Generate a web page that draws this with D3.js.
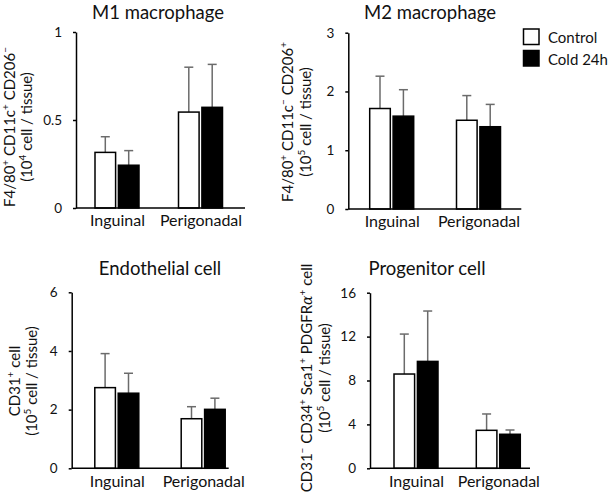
<!DOCTYPE html>
<html><head><meta charset="utf-8">
<script src="https://cdn.jsdelivr.net/npm/d3@7"></script>
<style>body{margin:0;background:#fff}svg{display:block}text{font-family:Lato,"Open Sans",sans-serif;fill:#111}</style>
</head><body><svg id="c" width="610" height="493"></svg>
<script>
const groups = ["Inguinal", "Perigonadal"];
const series = ["Control", "Cold 24h"];

const m1Control = [0.316, 0.545], m1ControlErr = [0.089, 0.255];
const m1Cold = [0.243, 0.572], m1ColdErr = [0.083, 0.244];
const m1Ticks = [0, 0.5, 1];

const m2Control = [1.71, 1.51], m2ControlErr = [0.55, 0.42];
const m2Cold = [1.58, 1.40], m2ColdErr = [0.45, 0.38];
const m2Ticks = [0, 1, 2, 3];

const endoControl = [2.75, 1.69], endoControlErr = [1.16, 0.41];
const endoCold = [2.56, 2.01], endoColdErr = [0.68, 0.38];
const endoTicks = [0, 2, 4, 6];

const progControl = [8.59, 3.46], progControlErr = [3.64, 1.49];
const progCold = [9.74, 3.10], progColdErr = [4.59, 0.39];
const progTicks = [0, 4, 8, 12, 16];

const panels = [
  {title: "M1 macrophage", ticks: m1Ticks, vals: [m1Control, m1Cold], errs: [m1ControlErr, m1ColdErr],
   ax: 76, top: 32, bot: 208, len: 169, c1: 41, c2: 124.5, tx: 158, ty: 19,
   lab: [["F4/80", ["+"], " CD11c", ["+"], " CD206", ["\u2212"]], ["(10", ["4"], " cell / tissue)"]], lx: [9, 26], ly: 127},
  {title: "M2 macrophage", ticks: m2Ticks, vals: [m2Control, m2Cold], errs: [m2ControlErr, m2ColdErr],
   ax: 348.3, top: 32.7, bot: 209, len: 173, c1: 43.4, c2: 130.2, tx: 430, ty: 19,
   lab: [["F4/80", ["+"], " CD11c", ["\u2212"], " CD206", ["+"]], ["(10", ["5"], " cell / tissue)"]], lx: [287, 305], ly: 122},
  {title: "Endothelial cell", ticks: endoTicks, vals: [endoControl, endoCold], errs: [endoControlErr, endoColdErr],
   ax: 71.7, top: 292.3, bot: 468.3, len: 157, c1: 45.1, c2: 131.5, tx: 160, ty: 275,
   lab: [["CD31", ["+"], " cell"], ["(10", ["5"], " cell / tissue)"]], lx: [14, 31], ly: 381},
  {title: "Progenitor cell", ticks: progTicks, vals: [progControl, progCold], errs: [progControlErr, progColdErr],
   ax: 370, top: 292.7, bot: 468.3, len: 160, c1: 46, c2: 128.3, tx: 427, ty: 275,
   lab: [["CD31", ["\u2212"], " CD34", ["+"], " Sca1", ["+"], " PDGFR", ["\u03b1", "i"], ["+"], " cell"], ["(10", ["5"], " cell / tissue)"]], lx: [306, 324], ly: 378}
];

const svg = d3.select("#c");
const fills = ["#fff", "#000"];

panels.forEach(p => {
  const g = svg.append("g");
  const y = d3.scaleLinear().domain([0, d3.max(p.ticks)]).range([p.bot, p.top]);
  const xg = d3.scalePoint().domain(groups).range([p.ax + p.c1, p.ax + p.c2]);
  const xs = d3.scaleBand().domain(series).range([-22, 22]).paddingInner(0.12);

  g.append("text").attr("x", p.tx).attr("y", p.ty).attr("text-anchor", "middle")
    .style("font-size", "18.5px").text(p.title);

  series.forEach((s, si) => {
    groups.forEach((gr, gi) => {
      const v = p.vals[si][gi], e = p.errs[si][gi];
      const cx = xg(gr) + xs(s) + xs.bandwidth() / 2;
      g.append("line").attr("x1", cx).attr("x2", cx).attr("y1", y(v)).attr("y2", y(v + e))
        .attr("stroke", "#6b6b6b").attr("stroke-width", 1.5);
      g.append("line").attr("x1", cx - 4.5).attr("x2", cx + 4.5).attr("y1", y(v + e)).attr("y2", y(v + e))
        .attr("stroke", "#6b6b6b").attr("stroke-width", 1.5);
      g.append("rect").attr("x", xg(gr) + xs(s)).attr("width", xs.bandwidth())
        .attr("y", y(v)).attr("height", y(0) - y(v))
        .attr("fill", fills[si]).attr("stroke", "#000").attr("stroke-width", 1.5);
    });
  });

  const ya = g.append("g").attr("transform", `translate(${p.ax},0)`)
    .call(d3.axisLeft(y).tickValues(p.ticks).tickFormat(d3.format("~g")).tickSize(3).tickSizeOuter(0).tickPadding(11));
  ya.selectAll("path,line").attr("stroke", "#000").attr("stroke-width", 1.5);
  ya.selectAll("text").style("font-size", "13.5px").style("font-family", "Lato, sans-serif").attr("fill", "#111");

  g.append("line").attr("x1", p.ax).attr("x2", p.ax + p.len).attr("y1", y(0)).attr("y2", y(0))
    .attr("stroke", "#000").attr("stroke-width", 1.5);

  const xa = g.append("g").attr("transform", `translate(0,${y(0)})`)
    .call(d3.axisBottom(xg).tickSize(0).tickPadding(7));
  xa.select(".domain").remove();
  xa.selectAll("text").style("font-size", "16px").style("font-family", "Lato, sans-serif").attr("fill", "#111");

  p.lab.forEach((line, li) => {
    const t = g.append("text")
      .attr("transform", `translate(${p.lx[li] + 5.5},${p.ly}) rotate(-90)`)
      .attr("text-anchor", "middle").style("font-size", "15px");
    line.forEach(part => {
      if (typeof part === "string") t.append("tspan").text(part);
      else if (part[1] === "i") {
        t.append("tspan").style("font-style", "italic").style("font-family", "DejaVu Serif, serif")
          .style("font-size", "14px").text(part[0]);
      } else {
        t.append("tspan").attr("baseline-shift", "super").style("font-size", "10px").text(part[0]);
      }
    });
  });
});

const lg = svg.append("g");
series.forEach((s, i) => {
  lg.append("rect").attr("x", 523.5).attr("y", 29 + i * 21.5).attr("width", 15.5).attr("height", 15.5)
    .attr("fill", fills[i]).attr("stroke", "#000").attr("stroke-width", 1.5);
  lg.append("text").attr("x", 548).attr("y", 43 + i * 21.5).style("font-size", "15px").text(s);
});
</script></body></html>
